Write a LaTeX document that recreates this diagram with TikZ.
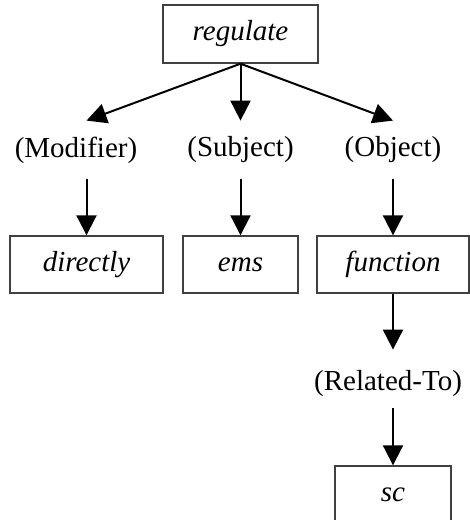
\documentclass[tikz,border=0pt]{standalone}
\usepackage{fontspec}
\setmainfont{Liberation Serif}
\usetikzlibrary{arrows.meta}

\begin{document}
\begin{tikzpicture}[x=0.5pt,y=-0.5pt]
        \tikzstyle{every node} = [font=\fontsize{14.5}{17}\selectfont, inner sep=0pt]
        \tikzstyle{box} = [rectangle, draw=black!75, line width=0.7pt, minimum height=28.5pt, font=\fontsize{14.5}{17}\selectfont\itshape]
        \tikzstyle{rel} = [rectangle, minimum height=29pt]
        \tikzstyle{arr} = [-{Triangle[width=10pt,length=10pt]}, line width=1pt]
        \clip (0,0) rectangle (470,520);

        \node[box, minimum width=77.5pt, minimum height=29pt] (reg) at (240.5,34) {regulate};
        \node[rel] (mod) at (76,150) {(Modifier)};
        \node[rel] (subj) at (240.5,150) {(Subject)};
        \node[rel] (obj) at (393,150) {(Object)};
        \node[box, minimum width=76.5pt] (dir) at (86.5,264.5) {directly};
        \node[box, minimum width=57.5pt] (ems) at (240.5,264.5) {ems};
        \node[box, minimum width=76pt] (fun) at (393,264.5) {function};
        \node[rel] (relto) at (388,379) {\raisebox{-5.5pt}[0pt][0pt]{(Related-To)}};
        \node[box, minimum width=58pt] (sc) at (393,494.5) {sc};

        \draw[arr] (reg.south) -- (mod.north -| dir.north);
        \draw[arr] (reg.south) -- (subj.north);
        \draw[arr] (reg.south) -- (obj.north);
        \draw[arr] (mod.south -| dir.north) -- (dir.north);
        \draw[arr] (subj.south) -- (ems.north);
        \draw[arr] (obj.south) -- (fun.north);
        \draw[arr] (fun.south) -- (fun.south |- relto.north);
        \draw[arr] (relto.south -| sc.north) -- (sc.north);
\end{tikzpicture}
\end{document}
